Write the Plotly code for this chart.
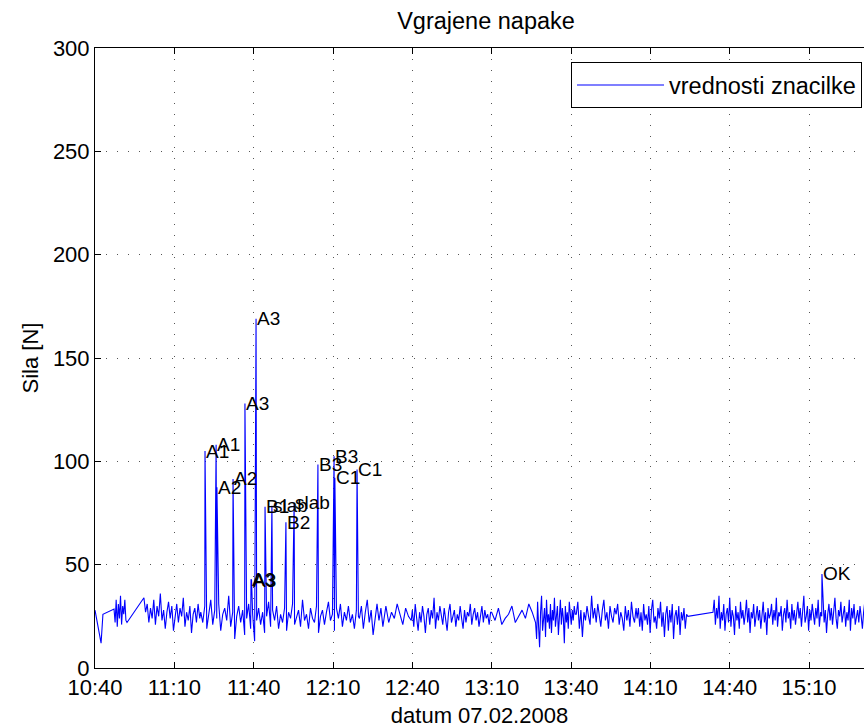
import numpy as np
import pandas as pd
import plotly.graph_objects as go

T0 = pd.Timestamp("2008-02-07 10:40")

# ---- data (minutes after 10:40, force in N) ----
start_minutes = [0.0, 2.3, 3.0, 7.2]
start_values = [28, 12, 26, 28.5]

# noise blocks: (start minute, end minute, values)
block_starts = [7.6, 18.5, 40.0, 100.0, 110.0, 120.0, 150.0, 167.0, 182.0, 205.0, 233.7]
block_ends = [12.1, 39.6, 99.6, 109.6, 119.6, 149.6, 166.6, 181.6, 204.6, 224.2, 292.0]
block_values = [
    [22, 33, 20, 31, 24, 35, 21, 30, 26, 33, 23, 22],
    [34, 27, 31, 22, 29, 24, 33, 21, 30, 25, 36, 23, 28, 19, 27, 32, 24, 30, 18, 26,
     31, 22, 29, 25, 34, 20, 27, 23, 30, 17, 26, 29, 22, 31, 24],
    [27, 22, 30, 19, 25, 33, 21, 28, 24, 31, 18, 26, 29, 23, 35, 20, 27, 14, 25, 30,
     22, 28, 16, 24, 31, 19, 26, 13, 23, 29, 21, 27, 17, 25, 32, 20, 28, 23, 30, 19,
     26, 22, 29, 18, 27, 24, 31, 21, 25, 28, 20, 33, 23, 26, 19, 29, 24, 22, 30, 17,
     25, 28, 21, 27, 32, 23, 26, 18, 29, 24, 31, 20, 27, 23, 30, 22, 26, 19, 28, 25],
    [24, 30, 19, 27, 33, 22, 28, 16, 25, 31, 23, 29, 20, 26],
    [30, 22, 27, 24, 31, 26, 21, 29, 25, 23],
    [28, 20, 31, 24, 18, 27, 22, 30, 25, 17, 26, 29, 21, 28, 24, 34, 19, 27, 23, 30,
     26, 21, 29, 24, 18, 27, 31, 22, 25, 28, 20, 26, 23, 30, 24, 19, 28, 22, 27, 25,
     31, 21, 26, 29, 23, 27, 20, 25, 30, 22, 28, 24, 26, 21, 27],
    [27, 23, 29, 21, 24, 26, 30, 22, 25, 28, 24, 31, 27, 22],
    [14, 32, 20, 10, 27, 35, 18, 24, 29, 15, 33, 22, 26, 19, 31, 17, 28, 23, 34, 20,
     25, 30, 16, 27, 33, 21, 29, 24, 12, 30, 22, 27, 19, 32, 25, 21, 28, 23, 30, 26],
    [26, 32, 19, 28, 15, 27, 23, 30, 25, 21, 35, 24, 29, 22, 31, 26, 20, 28, 33, 23,
     27, 19, 30, 25, 22, 29, 26, 31, 21, 27, 24, 18, 30, 23, 28, 20, 32, 25, 22, 29],
    [24, 29, 20, 27, 18, 31, 23, 26, 21, 30, 17, 28, 33, 22, 25, 19, 29, 24, 32, 20,
     27, 15, 26, 30, 18, 28, 22, 31, 14, 25, 28, 21, 30, 16, 27, 23, 29, 19, 26, 25],
    [27, 33, 21, 29, 24, 35, 19, 27, 23, 31, 18, 26, 29, 22, 34, 20, 28, 25, 16, 30,
     23, 27, 19, 32, 24, 28, 21, 26, 33, 22, 29, 17, 27, 24, 31, 20, 26, 30, 23, 28,
     19, 25, 32, 22, 27, 16, 29, 24, 26, 31, 21, 28, 23, 34, 20, 27, 25, 30, 18, 26,
     29, 22, 33, 24, 27, 19, 31, 23, 28, 21, 26, 32, 24, 29, 20, 27, 35, 22, 25, 30,
     18, 28, 23, 31, 26, 21, 29, 24, 33, 20, 27, 25, 30, 22, 28, 17, 26, 31, 23, 29,
     21, 27, 34, 24, 19, 28, 25, 32, 22, 26, 30, 20, 27, 23, 33, 18, 29, 24, 31, 21,
     26, 28, 22, 30, 25, 19, 27, 32, 23, 28],
]

# labelled fault events
event_minutes = [41.6, 45.8, 46.1, 52.2, 56.7, 59.0, 59.2, 60.9, 64.3, 66.9, 72.2, 75.3,
                 84.3, 90.4, 90.7, 99.1, 274.9]
event_values = [105, 108, 87.5, 91.5, 128, 43, 42.5, 169, 78, 78.5, 70.5, 80,
                98.5, 102.5, 92, 96, 45.5]
event_labels = ["A1", "A1", "A2", "A2", "A3", "A3", "A3", "A3", "B1", "slab", "B2", "slab",
                "B3", "B3", "C1", "C1", "OK"]

y_ticks = [0, 50, 100, 150, 200, 250, 300]

# ---- assemble series ----
mins = list(start_minutes)
vals = list(start_values)
for s, e, v in zip(block_starts, block_ends, block_values):
    mins += list(np.linspace(s, e, len(v)))
    vals += list(v)
mins += event_minutes
vals += event_values
order = np.argsort(mins, kind="stable")
mins = np.array(mins)[order]
vals = np.array(vals)[order]
times = T0 + pd.to_timedelta(mins, unit="m")

FONT = "Liberation Sans, Arial, Helvetica, sans-serif"

fig = go.Figure()
fig.add_trace(go.Scatter(x=times, y=vals, mode="lines", name="vrednosti znacilke",
                         line=dict(color="#0000ff", width=1.1), showlegend=True))

for m, v, lab in zip(event_minutes, event_values, event_labels):
    fig.add_annotation(x=T0 + pd.Timedelta(minutes=m), y=v, text=lab, showarrow=False,
                       xanchor="left", yanchor="middle", font=dict(size=19, color="black", family=FONT),
                       borderpad=0)

xticks = pd.date_range(T0, T0 + pd.Timedelta(minutes=270), freq="30min")

fig.update_layout(
    width=864, height=728,
    margin=dict(l=95, r=0, t=48, b=60),
    paper_bgcolor="white", plot_bgcolor="white",
    font=dict(family=FONT, size=22, color="black"),
    title=dict(text="Vgrajene napake", x=0.5625, xanchor="center", y=1 - 21 / 728,
               yanchor="middle", yref="container", font=dict(size=23.5)),
    showlegend=True,
    legend=dict(x=0.9974, y=0.977, xanchor="right", yanchor="top", bgcolor="white",
                bordercolor="black", borderwidth=1, font=dict(size=23.5), itemwidth=87),
)
fig.update_xaxes(
    type="date", range=[T0, T0 + pd.Timedelta(minutes=290.8)],
    tickvals=xticks, tickformat="%H:%M", ticks="inside", ticklen=6, tickcolor="black",
    showline=True, linecolor="black", linewidth=1, mirror="ticks",
    showgrid=True, gridcolor="#555", griddash="1px,10px", gridwidth=1,
    zeroline=False, title=dict(text="datum 07.02.2008", standoff=12, font=dict(size=22)),
)
fig.update_yaxes(
    range=[0, 300], tickvals=y_ticks, ticks="inside", ticklen=6, tickcolor="black",
    showline=True, linecolor="black", linewidth=1, mirror=False,
    showgrid=True, gridcolor="#555", griddash="1px,10px", gridwidth=1,
    zeroline=False, title=dict(text="Sila [N]", standoff=8, font=dict(size=22)),
)

fig.write_html("out.html")
